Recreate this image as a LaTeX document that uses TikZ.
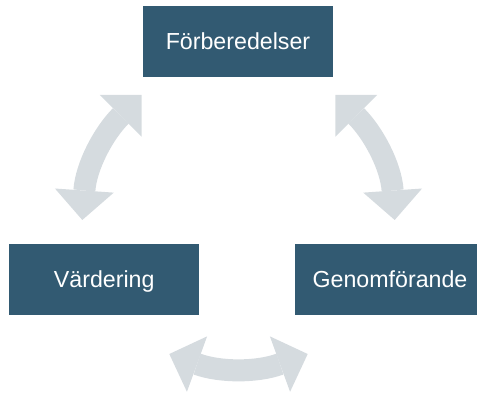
\documentclass[tikz,border=0pt]{standalone}
\usepackage{fontspec}
\setmainfont{Liberation Sans}
\usetikzlibrary{arrows.meta}

\definecolor{stageblue}{HTML}{325A72}
\definecolor{cyclegrey}{HTML}{D5DBDF}

\tikzset{
  stagebox/.style={fill=stageblue, text=white, minimum width=190pt,
    minimum height=71pt, inner sep=0pt, text height=16.6pt, text depth=0pt,
    font=\fontsize{23.2}{27}\selectfont},
  cyclearrow/.style={draw=cyclegrey, line width=22pt,
    >={Triangle[width=59pt, length=29.5pt, line width=0pt]}, <->},
}

\begin{document}
\begin{tikzpicture}[x=1pt, y=1pt]
  \useasboundingbox (0,0) rectangle (477,393);
  \clip (0,0) rectangle (477,393);

  % the three stages
  \node[stagebox] (prep) at (238,351.8) {Förberedelser};
  \node[stagebox] (eval) at (104.2,113.3) {Värdering};
  \node[stagebox] (exec) at (390,113.3) {Genomförande};

  % end points of the two-way arrows between the stages
  \coordinate (lefttop) at (141.7,298);
  \coordinate (leftbot) at (82.3,173);
  \coordinate (righttop) at (335.3,298);
  \coordinate (rightbot) at (394.7,173);
  \coordinate (botleft) at (169.3,39);
  \coordinate (botright) at (307.7,39);

  % curved double arrows
  \draw[cyclearrow] (leftbot) to[out=86, in=225] (lefttop);
  \draw[cyclearrow] (rightbot) to[out=94, in=-45] (righttop);
  \draw[cyclearrow] (botleft) to[out=-20, in=200] (botright);
\end{tikzpicture}
\end{document}
